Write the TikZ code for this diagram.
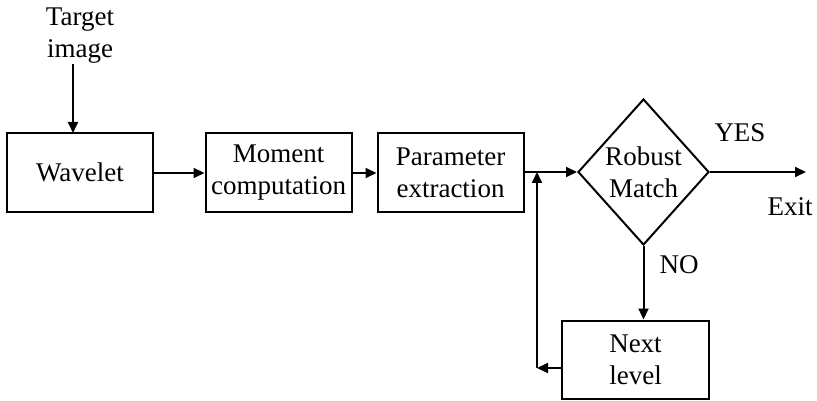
\documentclass[tikz,border=0pt]{standalone}
\usepackage{fontspec}
\setmainfont{Liberation Serif}
\usetikzlibrary{arrows.meta,shapes.geometric}
\begin{document}
\begin{tikzpicture}[x=1pt,y=-1pt,
  every node/.style={font=\fontsize{27}{32}\selectfont, align=center, inner sep=0pt},
  blockbox/.style={draw, line width=2pt, minimum width=146pt, minimum height=78pt},
  conn/.style={line width=2pt, -{Triangle[length=11pt,width=10pt]}}]
\useasboundingbox (0,0) rectangle (817,401);
\node (tgt) at (80,36) {Target\\image};
\node[blockbox] (wav) at (80,172.5) {Wavelet};
\node[blockbox] (mom) at (278.5,172.5) {Moment\\computation};
\node[blockbox] (par) at (450.5,172.5) {Parameter\\extraction};
\node[draw, line width=2pt, diamond, minimum width=131pt, minimum height=146pt] (dia) at (643.5,172) {Robust\\Match};
\node[blockbox, minimum width=147pt] (nxt) at (635.5,359.5) {Next\\level};
\node (yes) at (740,133) {YES};
\node (exit) at (790,207) {Exit};
\node (no) at (679,265) {NO};
\coordinate (tgtend) at (73,133);
\coordinate (exitend) at (806,172);
\coordinate (junc) at (537,172);
\coordinate (ret) at (537,368);
\draw[conn] (73,64) -- (tgtend);
\draw[conn] (wav.east |- 0,173) -- (mom.west |- 0,173);
\draw[conn] (mom.east |- 0,173) -- (par.west |- 0,173);
\draw[conn] (par.east |- dia.west) -- (dia.west);
\draw[conn] (dia.east) -- (exitend);
\draw[conn] (dia.south) -- (nxt.north -| dia.south);
\draw[conn] (nxt.west |- ret) -- (ret);
\draw[conn] (ret) -- (junc);
\end{tikzpicture}
\end{document}
